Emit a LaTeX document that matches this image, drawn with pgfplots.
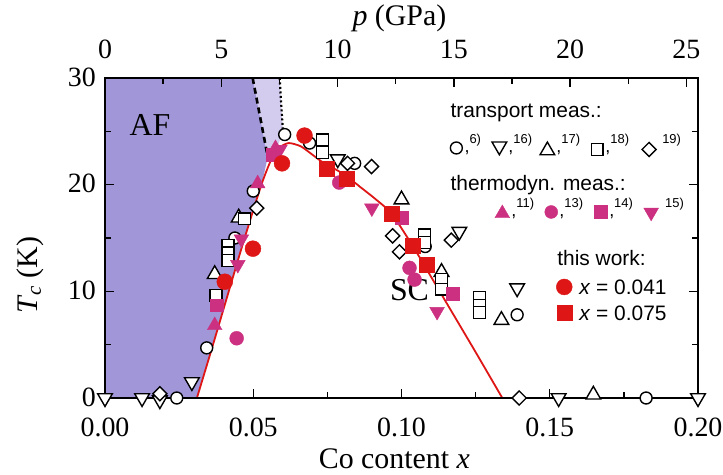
\documentclass[border=0pt]{standalone}
\usepackage{pgfplots}
\pgfplotsset{compat=1.18}
\usepackage{fontspec}
\setmainfont{Liberation Serif}
\newfontfamily\arial{Liberation Sans}
\definecolor{afpurple}{RGB}{160,150,216}
\definecolor{aflight}{RGB}{212,204,238}
\definecolor{myred}{RGB}{222,22,22}
\definecolor{mymag}{RGB}{204,48,128}
\tikzset{
  opnmk/.style={draw=black, fill=white, line width=1.4bp},
  magmk/.style={draw=mymag, fill=mymag},
  redmk/.style={draw=myred, fill=myred},
}
\newcommand{\lgf}{\arial\fontsize{21}{21}\selectfont}
\newcommand{\supr}[1]{\raisebox{9bp}{\arial\fontsize{13}{13}\selectfont #1}}
\newcommand{\cmm}{{\arial\fontsize{18}{18}\selectfont ,}}
\begin{document}
\begin{tikzpicture}
\useasboundingbox (-105bp,-77bp) rectangle (618bp,398bp);
\begin{axis}[
  at={(0bp,0bp)}, anchor=south west,
  scale only axis, width=593bp, height=320bp,
  xmin=0, xmax=0.2, ymin=0, ymax=30,
  clip=false, axis on top,
  axis line style={line width=2bp},
  tick align=inside, xtick pos=bottom, ytick pos=both,
  xtick={0,0.05,0.1,0.15,0.2}, xticklabels={0.00,0.05,0.10,0.15,0.20},
  minor xtick={0.025,0.075,0.125,0.175},
  ytick={0,10,20,30}, yticklabels={0,10,20,30},
  minor ytick={5,15,25},
  major tick length=9bp, minor tick length=6bp,
  tick style={black, line width=1.4bp},
  /pgf/number format/assume math mode=true,
  ticklabel style={font=\rmfamily\fontsize{28}{28}\selectfont, inner sep=1bp},
  xticklabel style={yshift=-19bp},
  yticklabel style={xshift=-8bp, yshift=1bp},
  only marks,
]
% AF region
\addplot[fill=afpurple, draw=none, no marks, sharp plot] coordinates {(0,0) (0,30) (0.0498,30) (0.0549,22.6) (0.053,20.2) (0.050,17.6) (0.046,14.0) (0.041,9.3) (0.036,4.6) (0.031,0)} -- cycle;
\addplot[fill=aflight, draw=none, no marks, sharp plot] coordinates {(0.0498,30) (0.0589,30) (0.0600,25.0) (0.0580,23.4) (0.0549,22.6)} -- cycle;
\addplot[black, line width=2.6bp, dash pattern=on 6bp off 4bp, no marks, sharp plot] coordinates {(0.0498,30) (0.0549,22.6)};
\addplot[black, line width=2.2bp, dash pattern=on 2bp off 2.5bp, no marks, sharp plot] coordinates {(0.0589,30) (0.0600,25.0)};
% SC dome
\addplot[myred, line width=1.8bp, no marks, smooth, tension=0.4] coordinates {(0.031,0) (0.036,4.6) (0.041,9.3) (0.046,14.0) (0.050,17.6) (0.053,20.2) (0.056,22.3) (0.059,23.5) (0.062,23.9) (0.066,23.6) (0.070,22.8) (0.0734,22.1) (0.078,21.4) (0.0815,20.8) (0.086,19.8) (0.091,18.7) (0.0966,17.3) (0.1037,14.3) (0.1084,12.1) (0.115,9.0) (0.125,4.3) (0.134,0)};
% transport
\addplot[mark=*, mark size=6, mark options={opnmk}] coordinates {(0.0242,0) (0.0343,4.7) (0.0438,15.0) (0.0500,19.4) (0.0606,24.7) (0.0690,23.9) (0.0842,22.0) (0.1080,14.2) (0.1390,7.8) (0.1825,0)};
\addplot[mark=triangle*, mark size=8.5, mark options={opnmk, rotate=180}] coordinates {(0,0) (0.0125,0) (0.0185,-0.2) (0.0293,1.5) (0.0785,22.4) (0.1195,15.6) (0.1390,10.3) (0.1530,0) (0.2,0)};
\addplot[mark=triangle*, mark size=8.5, mark options={opnmk}] coordinates {(0.0451,16.9) (0.0370,11.6) (0.1000,18.6) (0.1135,11.8) (0.1337,7.3) (0.1647,0.3)};
\addplot[mark=square*, mark size=6, mark options={opnmk}] coordinates {(0.0471,16.8) (0.0415,14.3) (0.0415,13.6) (0.0415,12.9) (0.0374,9.6) (0.0734,24.2) (0.0734,23.0) (0.1077,15.3) (0.1077,14.6) (0.1135,11.1) (0.1135,10.2) (0.1263,9.4) (0.1263,8.7) (0.1263,8.0)};
\addplot[mark=square*, mark size=5, mark options={opnmk, rotate=45}] coordinates {(0.0185,0.4) (0.0512,17.8) (0.0818,22.0) (0.0899,21.7) (0.0970,15.2) (0.0993,13.7) (0.1168,14.8) (0.1397,0)};
% thermodynamic
\addplot[mark=triangle*, mark size=8.5, mark options={magmk}] coordinates {(0.0370,6.8) (0.0515,20.1) (0.0575,23.4)};
\addplot[mark=*, mark size=7, mark options={magmk}] coordinates {(0.0444,5.6) (0.0790,20.2) (0.1027,12.2) (0.1044,11.1)};
\addplot[mark=square*, mark size=6.5, mark options={magmk}] coordinates {(0.0377,8.7) (0.1000,16.9) (0.1172,9.8) (0.0565,22.8)};
\addplot[mark=triangle*, mark size=8.5, mark options={magmk, rotate=180}] coordinates {(0.0448,12.5) (0.0460,14.9) (0.0900,17.8) (0.1120,8.1) (0.0590,23.3)};
% this work
\addplot[mark=*, mark size=8, mark options={redmk}] coordinates {(0.0404,10.9) (0.0499,14.0) (0.0597,22.0) (0.0673,24.6)};
\addplot[mark=square*, mark size=7.5, mark options={redmk}] coordinates {(0.0747,21.5) (0.0815,20.6) (0.0966,17.3) (0.1038,14.3) (0.1085,12.5)};
% legend glyphs
\addplot[mark=*, mark size=6, mark options={opnmk}] coordinates {(0.1185,23.44)};
\addplot[mark=triangle*, mark size=8.5, mark options={opnmk, rotate=180}] coordinates {(0.1330,23.6)};
\addplot[mark=triangle*, mark size=8.5, mark options={opnmk}] coordinates {(0.1492,23.2)};
\addplot[mark=square*, mark size=6, mark options={opnmk}] coordinates {(0.1660,23.3)};
\addplot[mark=square*, mark size=5, mark options={opnmk, rotate=45}] coordinates {(0.1835,23.3)};
\addplot[mark=triangle*, mark size=8.5, mark options={magmk}] coordinates {(0.1340,17.3)};
\addplot[mark=*, mark size=6.5, mark options={magmk}] coordinates {(0.1505,17.44)};
\addplot[mark=square*, mark size=6.5, mark options={magmk}] coordinates {(0.1673,17.44)};
\addplot[mark=triangle*, mark size=8.5, mark options={magmk, rotate=180}] coordinates {(0.1842,17.4)};
\addplot[mark=*, mark size=8, mark options={redmk}] coordinates {(0.1549,10.41)};
\addplot[mark=square*, mark size=7.5, mark options={redmk}] coordinates {(0.1549,7.97)};
% legend text
\node[anchor=west, inner sep=0] at (0.1165,26.7) {\lgf transport meas.:};
\node[anchor=west, inner sep=0] at (0.1165,19.97) {\lgf thermodyn. meas.:};
\node[anchor=west, inner sep=0] at (0.1525,13.1) {\lgf this work:};
\node[anchor=west, inner sep=0] at (0.1599,10.41) {\lgf \textit{x} = 0.041};
\node[anchor=west, inner sep=0] at (0.1599,7.97) {\lgf \textit{x} = 0.075};
\node[anchor=base west, inner sep=0] at (0.1212,23.06) {\cmm\supr{6)}};
\node[anchor=base west, inner sep=0] at (0.1360,23.06) {\cmm\supr{16)}};
\node[anchor=base west, inner sep=0] at (0.1522,23.06) {\cmm\supr{17)}};
\node[anchor=base west, inner sep=0] at (0.1687,23.06) {\cmm\supr{18)}};
\node[anchor=base west, inner sep=0] at (0.1862,23.06) {\phantom{\cmm}\supr{19)}};
\node[anchor=base west, inner sep=0] at (0.1370,17.06) {\cmm\supr{11)}};
\node[anchor=base west, inner sep=0] at (0.1532,17.06) {\cmm\supr{13)}};
\node[anchor=base west, inner sep=0] at (0.1700,17.06) {\cmm\supr{14)}};
\node[anchor=base west, inner sep=0] at (0.1872,17.06) {\phantom{\cmm}\supr{15)}};
% region labels
\node at (0.0152,25.6) {\rmfamily\fontsize{32}{32}\selectfont AF};
\node at (0.1027,10.1) {\rmfamily\fontsize{32}{32}\selectfont SC};
% axis labels
\node at (0.0976,-5.7) {\rmfamily\fontsize{30}{30}\selectfont Co content \textit{x}};
\node[rotate=90] at (-0.0253,11.5) {\rmfamily\fontsize{30}{30}\selectfont \textit{T}\textsubscript{\textit{c}} (K)};
\node at (0.0993,35.6) {\rmfamily\fontsize{30}{30}\selectfont \textit{p} (GPa)};
\end{axis}
\begin{axis}[
  at={(0bp,0bp)}, anchor=south west,
  scale only axis, width=593bp, height=320bp,
  xmin=0, xmax=25.5, ymin=0, ymax=1,
  axis x line*=top, axis y line=none,
  axis line style={line width=2bp},
  tick align=inside,
  xtick={0,5,10,15,20,25}, xticklabels={0,5,10,15,20,25},
  minor xtick={2.5,7.5,12.5,17.5,22.5},
  major tick length=9bp, minor tick length=6bp,
  tick style={black, line width=1.4bp},
  /pgf/number format/assume math mode=true,
  ticklabel style={font=\rmfamily\fontsize{28}{28}\selectfont, yshift=16bp},
]
\addplot[draw=none] coordinates {(0,0)};
\end{axis}
\end{tikzpicture}
\end{document}
